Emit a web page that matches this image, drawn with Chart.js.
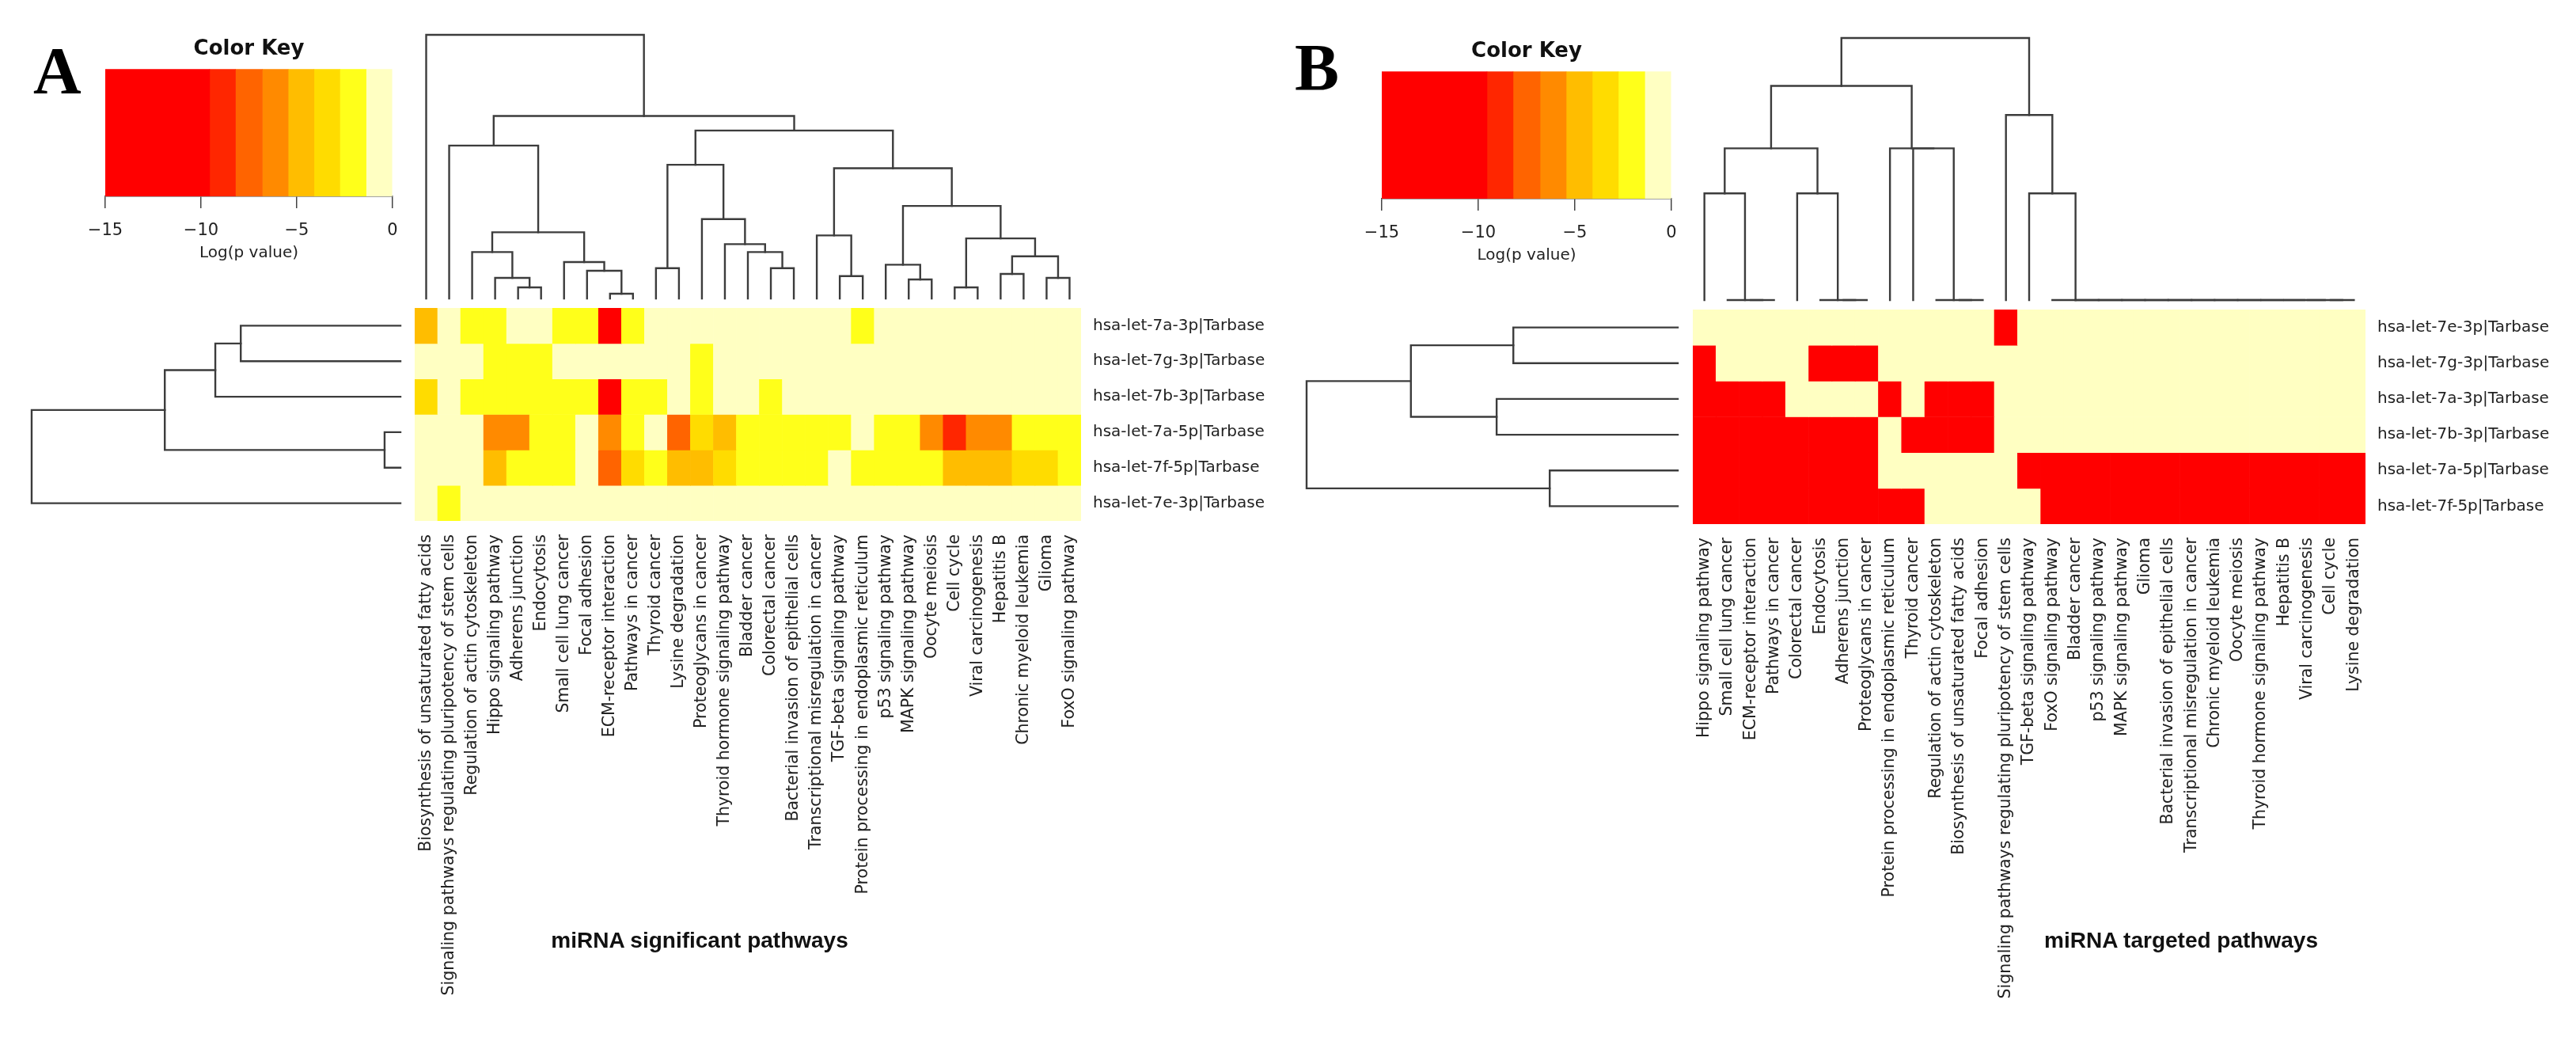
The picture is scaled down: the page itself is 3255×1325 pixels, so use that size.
<!DOCTYPE html>
<!-- let-7 family pathway heatmaps (A: significant pathways, B: targeted pathways) -->
<html>
<head>
  <meta charset="utf-8">
  <title>let-7 pathway heatmaps</title>
  <script src="https://cdn.jsdelivr.net/npm/chart.js@4.4.1/dist/chart.umd.min.js"></script>
</head>
<style>
body{
	margin: 0;
	background: #ffffff;
	width: 3255px;
	height: 1325px;
	position: relative;
	overflow: hidden;
}
canvas{
	position: absolute;
}
.letter{
	position: absolute;
	font-family: "Liberation Serif";
	font-weight: bold;
	font-size: 84px;
	line-height: 1;
	color: #000;
}
.caption{
	position: absolute;
	font-family: "Liberation Sans";
	font-weight: bold;
	font-size: 28px;
	line-height: 1;
	color: #111;
	white-space: nowrap;
	transform: translate(-50%, -50%);
}
</style>
<body>
  <div class="letter" style="left:42px; top:48px;">A</div>
  <div class="letter" style="left:1636px; top:44px;">B</div>

  <canvas id="keyA" width="443" height="291" style="left:93px; top:41px;"></canvas>
  <canvas id="colDendA" width="850" height="341" style="left:520px; top:40px;"></canvas>
  <canvas id="rowDendA" width="474" height="277" style="left:36px; top:385px;"></canvas>
  <canvas id="heatA" width="1102" height="889" style="left:524px; top:389px;"></canvas>

  <canvas id="keyB" width="446" height="291" style="left:1706px; top:44px;"></canvas>
  <canvas id="colDendB" width="858" height="339" style="left:2135px; top:44px;"></canvas>
  <canvas id="rowDendB" width="477" height="279" style="left:1647px; top:387px;"></canvas>
  <canvas id="heatB" width="1112" height="891" style="left:2139px; top:391px;"></canvas>

  <div class="caption" style="left:884px; top:1188px;">miRNA significant pathways</div>
  <div class="caption" style="left:2756px; top:1188px;">miRNA targeted pathways</div>

<script>
//////////////////////////////////////////////////
////////////////Color key/////////////////////////
// band edges of Log(p value) and the colour of each band
var keyBreaks = [-15, -9.55, -8.2, -6.8, -5.45, -4.1, -2.75, -1.38, 0];
var keyColors = ['#ff0000', '#ff2600', '#ff6400', '#ff8a00', '#ffbd00', '#ffdc00', '#ffff1a', '#ffffc2'];
var keyTicks = [-15, -10, -5, 0];

//////////////////////////////////////////////////
////////////////Panel A data//////////////////////
var colNamesA = ['Biosynthesis of unsaturated fatty acids', 'Signaling pathways regulating pluripotency of stem cells',
  'Regulation of actin cytoskeleton', 'Hippo signaling pathway', 'Adherens junction', 'Endocytosis',
  'Small cell lung cancer', 'Focal adhesion', 'ECM-receptor interaction', 'Pathways in cancer', 'Thyroid cancer',
  'Lysine degradation', 'Proteoglycans in cancer', 'Thyroid hormone signaling pathway', 'Bladder cancer',
  'Colorectal cancer', 'Bacterial invasion of epithelial cells', 'Transcriptional misregulation in cancer',
  'TGF-beta signaling pathway', 'Protein processing in endoplasmic reticulum', 'p53 signaling pathway',
  'MAPK signaling pathway', 'Oocyte meiosis', 'Cell cycle', 'Viral carcinogenesis', 'Hepatitis B',
  'Chronic myeloid leukemia', 'Glioma', 'FoxO signaling pathway'];
var rowNamesA = ['hsa-let-7a-3p|Tarbase', 'hsa-let-7g-3p|Tarbase', 'hsa-let-7b-3p|Tarbase',
  'hsa-let-7a-5p|Tarbase', 'hsa-let-7f-5p|Tarbase', 'hsa-let-7e-3p|Tarbase'];
// Log(p value) per pathway, one array per miRNA
var logpA_7a3p = [-4.6, -0.5, -2.1, -2.1, -0.5, -0.5, -2.1, -2.1, -11.5, -2.1, -0.5, -0.5, -0.5, -0.5, -0.5,
  -0.5, -0.5, -0.5, -0.5, -2.1, -0.5, -0.5, -0.5, -0.5, -0.5, -0.5, -0.5, -0.5, -0.5];
var logpA_7g3p = [-0.5, -0.5, -0.5, -2.1, -2.1, -2.1, -0.5, -0.5, -0.5, -0.5, -0.5, -0.5, -2.1, -0.5, -0.5,
  -0.5, -0.5, -0.5, -0.5, -0.5, -0.5, -0.5, -0.5, -0.5, -0.5, -0.5, -0.5, -0.5, -0.5];
var logpA_7b3p = [-3.9, -0.5, -2.1, -2.1, -2.1, -2.1, -2.1, -2.1, -11.8, -2.1, -2.1, -0.5, -2.1, -0.5, -0.5,
  -2.1, -0.5, -0.5, -0.5, -0.5, -0.5, -0.5, -0.5, -0.5, -0.5, -0.5, -0.5, -0.5, -0.5];
var logpA_7a5p = [-0.5, -0.5, -0.5, -6.5, -5.8, -2.1, -2.1, -0.5, -5.7, -2.1, -0.5, -7.6, -3.3, -4.6, -2.1,
  -2.1, -2.1, -2.1, -2.1, -0.5, -2.1, -2.1, -5.7, -8.6, -6.6, -5.8, -2.1, -2.1, -2.1];
var logpA_7f5p = [-0.5, -0.5, -0.5, -4.6, -2.1, -2.1, -2.1, -0.5, -7.4, -3.4, -2.1, -4.4, -4.4, -3.4, -2.1,
  -2.1, -2.1, -2.1, -0.5, -2.1, -2.1, -2.1, -2.1, -4.5, -4.5, -4.5, -3.5, -3.5, -2.1];
var logpA_7e3p = [-0.5, -2.1, -0.5, -0.5, -0.5, -0.5, -0.5, -0.5, -0.5, -0.5, -0.5, -0.5, -0.5, -0.5, -0.5,
  -0.5, -0.5, -0.5, -0.5, -0.5, -0.5, -0.5, -0.5, -0.5, -0.5, -0.5, -0.5, -0.5, -0.5];

// dendrograms, hclust style: negative = leaf (display order), positive = earlier merge
var colMergeLeftA  = [-5, -4, -3, -9, -8, -7, 3, -2, -11, -16, -15, -14, -13, 9, -19, -18, -22, -21, -24, -26, -28, 20, 19, 18, 16, 14, 8, -1];
var colMergeRightA = [-6, 1, 2, -10, 4, 5, 6, 7, -12, -17, 10, 11, 12, 13, -20, 15, -23, 17, -25, -27, -29, 21, 22, 23, 24, 25, 26, 27];
var colMergeHeightA = [0.42, 0.78, 1.76, 0.18, 1.05, 1.38, 2.51, 5.80, 1.15, 1.15, 1.76, 2.06, 3.01, 5.07,
  0.85, 2.39, 0.72, 1.28, 0.42, 0.93, 0.78, 1.60, 2.28, 3.51, 4.94, 6.37, 6.92, 10];
var rowMergeLeftA  = [-1, -3, -4, 2, -6];
var rowMergeRightA = [-2, 1, -5, 3, 4];
var rowMergeHeightA = [4.33, 5.02, 0.43, 6.39, 10];

//////////////////////////////////////////////////
////////////////Panel B data//////////////////////
var colNamesB = ['Hippo signaling pathway', 'Small cell lung cancer', 'ECM-receptor interaction', 'Pathways in cancer',
  'Colorectal cancer', 'Endocytosis', 'Adherens junction', 'Proteoglycans in cancer',
  'Protein processing in endoplasmic reticulum', 'Thyroid cancer', 'Regulation of actin cytoskeleton',
  'Biosynthesis of unsaturated fatty acids', 'Focal adhesion', 'Signaling pathways regulating pluripotency of stem cells',
  'TGF-beta signaling pathway', 'FoxO signaling pathway', 'Bladder cancer', 'p53 signaling pathway',
  'MAPK signaling pathway', 'Glioma', 'Bacterial invasion of epithelial cells', 'Transcriptional misregulation in cancer',
  'Chronic myeloid leukemia', 'Oocyte meiosis', 'Thyroid hormone signaling pathway', 'Hepatitis B',
  'Viral carcinogenesis', 'Cell cycle', 'Lysine degradation'];
var rowNamesB = ['hsa-let-7e-3p|Tarbase', 'hsa-let-7g-3p|Tarbase', 'hsa-let-7a-3p|Tarbase',
  'hsa-let-7b-3p|Tarbase', 'hsa-let-7a-5p|Tarbase', 'hsa-let-7f-5p|Tarbase'];
var logpB_7e3p = [-0.3, -0.3, -0.3, -0.3, -0.3, -0.3, -0.3, -0.3, -0.3, -0.3, -0.3, -0.3, -0.3, -12, -0.3,
  -0.3, -0.3, -0.3, -0.3, -0.3, -0.3, -0.3, -0.3, -0.3, -0.3, -0.3, -0.3, -0.3, -0.3];
var logpB_7g3p = [-12, -0.3, -0.3, -0.3, -0.3, -12, -12, -12, -0.3, -0.3, -0.3, -0.3, -0.3, -0.3, -0.3,
  -0.3, -0.3, -0.3, -0.3, -0.3, -0.3, -0.3, -0.3, -0.3, -0.3, -0.3, -0.3, -0.3, -0.3];
var logpB_7a3p = [-12, -12, -12, -12, -0.3, -0.3, -0.3, -0.3, -12, -0.3, -12, -12, -12, -0.3, -0.3,
  -0.3, -0.3, -0.3, -0.3, -0.3, -0.3, -0.3, -0.3, -0.3, -0.3, -0.3, -0.3, -0.3, -0.3];
var logpB_7b3p = [-12, -12, -12, -12, -12, -12, -12, -12, -0.3, -12, -12, -12, -12, -0.3, -0.3,
  -0.3, -0.3, -0.3, -0.3, -0.3, -0.3, -0.3, -0.3, -0.3, -0.3, -0.3, -0.3, -0.3, -0.3];
var logpB_7a5p = [-12, -12, -12, -12, -12, -12, -12, -12, -0.3, -0.3, -0.3, -0.3, -0.3, -0.3, -12,
  -12, -12, -12, -12, -12, -12, -12, -12, -12, -12, -12, -12, -12, -12];
var logpB_7f5p = [-12, -12, -12, -12, -12, -12, -12, -12, -12, -12, -0.3, -0.3, -0.3, -0.3, -0.3,
  -12, -12, -12, -12, -12, -12, -12, -12, -12, -12, -12, -12, -12, -12];

var colMergeLeftB  = [-3, -2, -1, -7, -6, -5, 3, -12, -11, -10, -9, 7, -28, -27, -26, -25, -24, -23, -22, -21, -20, -19, -18, -17, -16, -15, -14, 12];
var colMergeRightB = [-4, 1, 2, -8, 4, 5, 6, -13, 8, 9, 10, 11, -29, 13, 14, 15, 16, 17, 18, 19, 20, 21, 22, 23, 24, 25, 26, 27];
var colMergeHeightB = [0, 0, 4.07, 0, 0, 4.07, 5.79, 0, 0, 5.79, 5.79, 8.17, 0, 0, 0, 0, 0, 0, 0, 0, 0, 0,
  0, 0, 0, 4.07, 7.06, 10];
var rowMergeLeftB  = [-1, -3, 1, -5, 3];
var rowMergeRightB = [-2, -4, 2, -6, 4];
var rowMergeHeightB = [4.43, 4.88, 7.19, 3.45, 10];
</script>

<script>
Chart.defaults.font.family = 'DejaVu Sans';
Chart.defaults.color = '#222';
var lineColor = '#3c3c3c';

//picks the key band colour for a Log(p value)
function colorFor(v){
  for (var i = 0; i < keyColors.length; i++)
    if (v < keyBreaks[i + 1]) return keyColors[i];
  return keyColors[keyColors.length - 1];
}

//turns the merge table into one little polyline per merge
function dendroLines(left, right, height){
  var pos = [], hgt = [], lines = [];
  function at(i){ return i < 0 ? [-i, 0] : [pos[i - 1], hgt[i - 1]]; }
  for (var k = 0; k < left.length; k++){
    var a = at(left[k]), b = at(right[k]), h = height[k];
    lines.push([{x: a[0], y: a[1]}, {x: a[0], y: h}, {x: b[0], y: h}, {x: b[0], y: b[1]}]);
    pos.push((a[0] + b[0]) / 2);
    hgt.push(h);
  }
  return lines;
}

function keyChart(id){
  new Chart(document.getElementById(id), {
    type: 'bar',
    data: {
      labels: ['key'],
      datasets: keyColors.map(function(c, i){
        return {data: [[keyBreaks[i], keyBreaks[i + 1]]], backgroundColor: c, borderWidth: 0,
                grouped: false, barPercentage: 1, categoryPercentage: 1};
      })
    },
    options: {
      indexAxis: 'y', responsive: false, animation: false, events: [],
      layout: {padding: {left: 40, right: 40}},
      plugins: {
        legend: {display: false}, tooltip: {enabled: false},
        title: {display: true, text: 'Color Key', color: '#111',
                font: {size: 26, weight: 'bold'}, padding: {top: 6, bottom: 9}}
      },
      scales: {
        x: {
          type: 'linear', min: keyBreaks[0], max: keyBreaks[keyBreaks.length - 1],
          afterBuildTicks: function(s){ s.ticks = keyTicks.map(function(v){ return {value: v}; }); },
          ticks: {padding: 16, font: {size: 21}, color: '#222',
                  callback: function(v){ return String(v).replace('-', '\u2212'); }},
          grid: {drawOnChartArea: false, drawTicks: true, tickLength: 15, color: '#444', lineWidth: 1.5},
          border: {display: true, color: '#444', width: 1.5},
          title: {display: true, text: 'Log(p value)', font: {size: 20}, color: '#222', padding: 0},
          afterFit: function(s){ s.height = 84; }
        },
        y: {display: false}
      }
    }
  });
}

//across = true for the column tree (leaves along x), false for the row tree
function dendroChart(id, lines, n, across){
  new Chart(document.getElementById(id), {
    type: 'scatter',
    data: {
      datasets: lines.map(function(pts){
        return {
          data: across ? pts : pts.map(function(p){ return {x: p.y, y: p.x}; }),
          showLine: true, borderColor: lineColor, borderWidth: 2.4, pointRadius: 0,
          clip: false, borderCapStyle: 'square'
        };
      })
    },
    options: {
      responsive: false, animation: false, events: [],
      layout: {padding: 4},
      plugins: {legend: {display: false}, tooltip: {enabled: false}},
      scales: across ? {
        x: {type: 'linear', min: 0.5, max: n + 0.5, display: false},
        y: {type: 'linear', min: 0, max: 10, display: false}
      } : {
        x: {type: 'linear', min: 0, max: 10, reverse: true, display: false},
        y: {type: 'linear', min: 0.5, max: n + 0.5, reverse: true, display: false}
      }
    }
  });
}

function heatChart(id, cols, rows, values, labelWidth){
  new Chart(document.getElementById(id), {
    type: 'bar',
    data: {
      labels: cols,
      datasets: rows.map(function(r, i){
        return {
          label: r,
          data: values[i].map(function(){ return 1; }),
          backgroundColor: values[i].map(colorFor),
          borderWidth: 0, barPercentage: 1, categoryPercentage: 1
        };
      })
    },
    options: {
      responsive: false, animation: false, events: [],
      layout: {padding: 0},
      plugins: {legend: {display: false}, tooltip: {enabled: false}},
      scales: {
        x: {
          stacked: true, offset: true,
          grid: {display: false, drawTicks: false}, border: {display: false},
          ticks: {autoSkip: false, maxRotation: 90, minRotation: 90, padding: 17,
                  font: {size: 20.5}, color: '#222'},
          afterFit: function(s){ s.height = 620; s.paddingLeft = 0; s.paddingRight = 0; }
        },
        y: {stacked: true, min: 0, max: rows.length, reverse: true, display: false},
        rowLabels: {
          type: 'category', labels: rows, position: 'right', offset: true,
          grid: {display: false, drawTicks: false}, border: {display: false},
          ticks: {padding: 15, font: {size: 20}, color: '#222'},
          afterFit: function(s){ s.width = labelWidth; s.paddingTop = 0; s.paddingBottom = 0; }
        }
      }
    }
  });
}

//////////////////////////////////////////////////
////////////////Panel A///////////////////////////
keyChart('keyA');
dendroChart('colDendA', dendroLines(colMergeLeftA, colMergeRightA, colMergeHeightA), colNamesA.length, true);
dendroChart('rowDendA', dendroLines(rowMergeLeftA, rowMergeRightA, rowMergeHeightA), rowNamesA.length, false);
heatChart('heatA', colNamesA, rowNamesA,
  [logpA_7a3p, logpA_7g3p, logpA_7b3p, logpA_7a5p, logpA_7f5p, logpA_7e3p], 260);

//////////////////////////////////////////////////
////////////////Panel B///////////////////////////
keyChart('keyB');
dendroChart('colDendB', dendroLines(colMergeLeftB, colMergeRightB, colMergeHeightB), colNamesB.length, true);
dendroChart('rowDendB', dendroLines(rowMergeLeftB, rowMergeRightB, rowMergeHeightB), rowNamesB.length, false);
heatChart('heatB', colNamesB, rowNamesB,
  [logpB_7e3p, logpB_7g3p, logpB_7a3p, logpB_7b3p, logpB_7a5p, logpB_7f5p], 262);
</script>
</body>
</html>
